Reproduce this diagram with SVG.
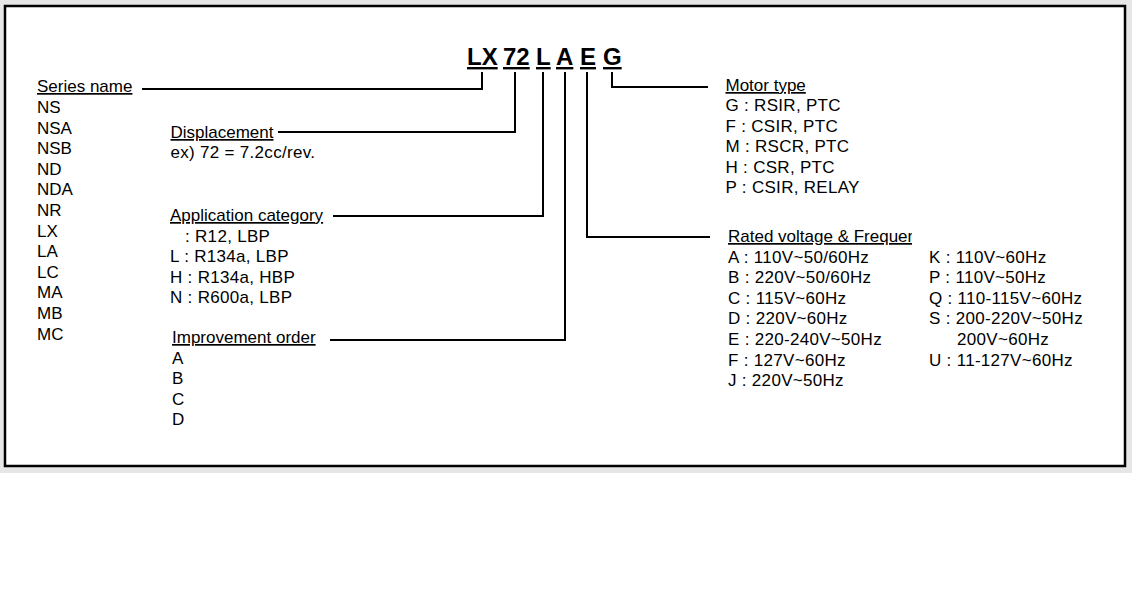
<svg xmlns="http://www.w3.org/2000/svg" width="1132" height="614" viewBox="0 0 1132 614">
<style>
text{font-family:"Liberation Sans",Arial,sans-serif;font-size:17px;fill:#000}
.num{letter-spacing:0.3px}
.code{font-size:24px;font-weight:bold;text-decoration:underline}
.hd{text-decoration:underline}
.ln{fill:none;stroke:#000;stroke-width:2}
</style>
<defs>
<clipPath id="clipRV"><rect x="700" y="220" width="212" height="30"/></clipPath>
</defs>
<rect x="0" y="0" width="1132" height="473" fill="#e6e6e6"/>
<rect x="0" y="473" width="1132" height="141" fill="#fff"/>
<rect x="5" y="6" width="1120" height="460" fill="#fff" stroke="#000" stroke-width="2.5"/>
<g id="code">
<text class="code" x="467" y="65">LX</text>
<text class="code" x="503" y="65">72</text>
<text class="code" x="536" y="65">L</text>
<text class="code" x="556" y="65">A</text>
<text class="code" x="580" y="65">E</text>
<text class="code" x="603" y="65">G</text>
</g>
<g id="connectors">
<polyline class="ln" points="482,72 482,89 142,89"/>
<polyline class="ln" points="515,72 515,132 278,132"/>
<polyline class="ln" points="543,72 543,216 333,216"/>
<polyline class="ln" points="565,72 565,340 330,340"/>
<polyline class="ln" points="587,72 587,237 710,237"/>
<polyline class="ln" points="612,72 612,87 708,87"/>
</g>
<g id="series">
<text class="hd" x="37" y="92">Series name</text>
<text x="37" y="113">NS</text>
<text x="37" y="133.6">NSA</text>
<text x="37" y="154.2">NSB</text>
<text x="37" y="174.8">ND</text>
<text x="37" y="195.4">NDA</text>
<text x="37" y="216">NR</text>
<text x="37" y="236.6">LX</text>
<text x="37" y="257.2">LA</text>
<text x="37" y="277.8">LC</text>
<text x="37" y="298.4">MA</text>
<text x="37" y="319">MB</text>
<text x="37" y="339.6">MC</text>
</g>
<g id="displacement">
<text class="hd" x="170.5" y="138">Displacement</text>
<text class="num" x="170.5" y="158">ex) 72 = 7.2cc/rev.</text>
</g>
<g id="application">
<text class="hd" x="170" y="221">Application category</text>
<text class="num" x="185" y="241.5">: R12, LBP</text>
<text class="num" x="170" y="262">L : R134a, LBP</text>
<text class="num" x="170" y="282.5">H : R134a, HBP</text>
<text class="num" x="170" y="303">N : R600a, LBP</text>
</g>
<g id="improvement">
<text class="hd" x="172" y="343">Improvement order</text>
<text x="172" y="363.5">A</text>
<text x="172" y="384">B</text>
<text x="172" y="404.5">C</text>
<text x="172" y="425">D</text>
</g>
<g id="motor">
<text class="hd" x="725.5" y="91">Motor type</text>
<text class="num" x="725.5" y="111">G : RSIR, PTC</text>
<text class="num" x="725.5" y="131.6">F : CSIR, PTC</text>
<text class="num" x="725.5" y="152.2">M : RSCR, PTC</text>
<text class="num" x="725.5" y="172.8">H : CSR, PTC</text>
<text class="num" x="725.5" y="193.4">P : CSIR, RELAY</text>
</g>
<g id="voltage">
<text class="hd" x="728" y="242" clip-path="url(#clipRV)">Rated voltage &amp; Frequency</text>
<text class="num" x="728" y="262.5">A : 110V~50/60Hz</text>
<text class="num" x="728" y="283.1">B : 220V~50/60Hz</text>
<text class="num" x="728" y="303.7">C : 115V~60Hz</text>
<text class="num" x="728" y="324.3">D : 220V~60Hz</text>
<text class="num" x="728" y="344.9">E : 220-240V~50Hz</text>
<text class="num" x="728" y="365.5">F : 127V~60Hz</text>
<text class="num" x="728" y="386.1">J : 220V~50Hz</text>
<text class="num" x="929" y="262.5">K : 110V~60Hz</text>
<text class="num" x="929" y="283.1">P : 110V~50Hz</text>
<text class="num" x="929" y="303.7">Q : 110-115V~60Hz</text>
<text class="num" x="929" y="324.3">S : 200-220V~50Hz</text>
<text class="num" x="957" y="344.9">200V~60Hz</text>
<text class="num" x="929" y="365.5">U : 11-127V~60Hz</text>
</g>
</svg>
